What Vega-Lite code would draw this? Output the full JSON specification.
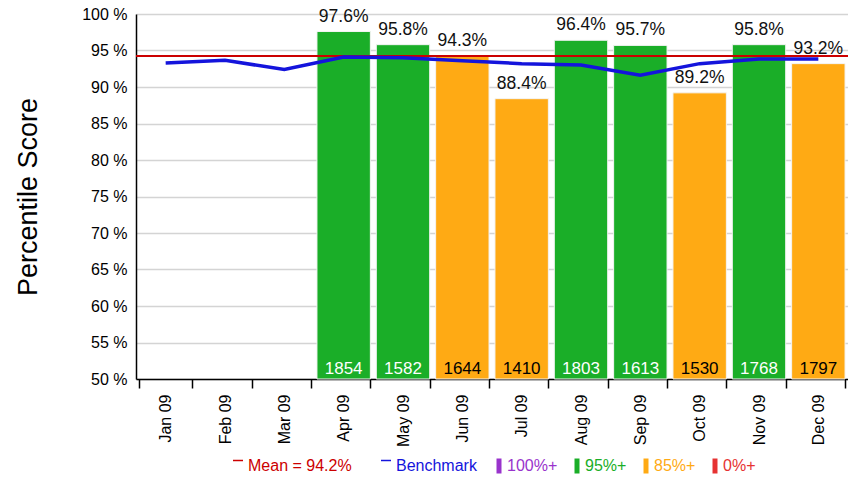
{
  "$schema": "https://vega.github.io/schema/vega-lite/v6.json",
  "width": 712,
  "height": 365,
  "autosize": "none",
  "padding": {"left": 136, "top": 14, "right": 0, "bottom": 100},
  "background": "white",
  "config": {
    "view": {"stroke": null},
    "font": "Liberation Sans",
    "axisY": {
      "labelFontSize": 16, "labelColor": "black", "labelPadding": 9,
      "ticks": false, "grid": true, "gridColor": "#d4d4d4", "gridWidth": 1.5,
      "domainColor": "black", "domainWidth": 1.5,
      "titleFont": "Liberation Sans", "titleFontSize": 27,
      "titleFontWeight": "normal", "titleColor": "black", "titlePadding": 39
    }
  },
  "data": {"values": [
    {"month": "Jan 09", "score": null, "count": null, "band": null, "bench": 93.3},
    {"month": "Feb 09", "score": null, "count": null, "band": null, "bench": 93.65},
    {"month": "Mar 09", "score": null, "count": null, "band": null, "bench": 92.4},
    {"month": "Apr 09", "score": 97.6, "count": 1854, "band": "95%+", "bench": 94.1},
    {"month": "May 09", "score": 95.8, "count": 1582, "band": "95%+", "bench": 94.0},
    {"month": "Jun 09", "score": 94.3, "count": 1644, "band": "85%+", "bench": 93.6},
    {"month": "Jul 09", "score": 88.4, "count": 1410, "band": "85%+", "bench": 93.2},
    {"month": "Aug 09", "score": 96.4, "count": 1803, "band": "95%+", "bench": 93.0},
    {"month": "Sep 09", "score": 95.7, "count": 1613, "band": "95%+", "bench": 91.6},
    {"month": "Oct 09", "score": 89.2, "count": 1530, "band": "85%+", "bench": 93.2},
    {"month": "Nov 09", "score": 95.8, "count": 1768, "band": "95%+", "bench": 93.85},
    {"month": "Dec 09", "score": 93.2, "count": 1797, "band": "85%+", "bench": 93.85}
  ]},
  "encoding": {
    "x": {
      "field": "month", "type": "ordinal",
      "scale": {
        "domain": ["Jan 09", "Feb 09", "Mar 09", "Apr 09", "May 09", "Jun 09", "Jul 09", "Aug 09", "Sep 09", "Oct 09", "Nov 09", "Dec 09"],
        "paddingInner": 0.1, "paddingOuter": 0.05
      },
      "axis": {
        "title": null, "labelAngle": -90, "labelAlign": "right", "labelBaseline": "middle",
        "labelFontSize": 16, "labelColor": "black", "labelPadding": 6,
        "tickBand": "extent", "tickSize": 9, "tickColor": "black", "tickWidth": 1.5,
        "domainColor": "black", "domainWidth": 1.5, "grid": false
      }
    }
  },
  "layer": [
    {
      "transform": [{"filter": "datum.score != null"}],
      "mark": {"type": "bar", "stroke": "#f4f4f4", "strokeWidth": 1},
      "encoding": {
        "y": {
          "field": "score", "type": "quantitative",
          "scale": {"domain": [50, 100], "zero": false, "nice": false},
          "axis": {"values": [50, 55, 60, 65, 70, 75, 80, 85, 90, 95, 100], "labelExpr": "datum.value + ' %'", "title": "Percentile Score"}
        },
        "y2": {"datum": 50},
        "fill": {
          "field": "band", "type": "nominal",
          "scale": {
            "domain": ["100%+", "95%+", "85%+", "0%+"],
            "range": ["#9933cc", "#1aae28", "#ffaa14", "#e63232"]
          },
          "legend": {
            "title": null, "orient": "none", "direction": "horizontal",
            "legendX": 355, "legendY": 444,
            "gridAlign": "none",
            "labelFontSize": 16, "labelOffset": 0,
            "labelColor": {"expr": "scale('fill', datum.value)"},
            "columnPadding": 11,
            "symbolType": "M-0.5,-1.5H0.5V1.5H-0.5Z", "symbolSize": 100, "symbolStrokeWidth": 0
          }
        }
      }
    },
    {
      "transform": [{"filter": "datum.score != null"}, {"calculate": "format(datum.score, '.1f') + '%'", "as": "lbl"}],
      "mark": {"type": "text", "baseline": "alphabetic", "dy": -10, "fontSize": 17.5, "color": "#111"},
      "encoding": {
        "y": {"field": "score", "type": "quantitative", "axis": {"values": [50, 55, 60, 65, 70, 75, 80, 85, 90, 95, 100], "labelExpr": "datum.value + ' %'", "title": "Percentile Score"}},
        "text": {"field": "lbl"}
      }
    },
    {
      "transform": [{"filter": "datum.band == '95%+'"}],
      "mark": {"type": "text", "baseline": "alphabetic", "dy": -5, "fontSize": 17, "color": "white"},
      "encoding": {
        "y": {"datum": 50, "axis": {"values": [50, 55, 60, 65, 70, 75, 80, 85, 90, 95, 100], "labelExpr": "datum.value + ' %'", "title": "Percentile Score"}},
        "text": {"field": "count", "type": "quantitative"}
      }
    },
    {
      "transform": [{"filter": "datum.band == '85%+'"}],
      "mark": {"type": "text", "baseline": "alphabetic", "dy": -5, "fontSize": 17, "color": "black"},
      "encoding": {
        "y": {"datum": 50, "axis": {"values": [50, 55, 60, 65, 70, 75, 80, 85, 90, 95, 100], "labelExpr": "datum.value + ' %'", "title": "Percentile Score"}},
        "text": {"field": "count", "type": "quantitative"}
      }
    },
    {
      "mark": {"type": "rule", "strokeWidth": 1.5},
      "encoding": {
        "y": {"datum": 94.2, "axis": {"values": [50, 55, 60, 65, 70, 75, 80, 85, 90, 95, 100], "labelExpr": "datum.value + ' %'", "title": "Percentile Score"}},
        "x": {"value": 0}, "x2": {"value": 712},
        "stroke": {
          "datum": "Mean = 94.2%", "type": "nominal",
          "scale": {"domain": ["Mean = 94.2%", "Benchmark"], "range": ["#cc0000", "#1414dc"]},
          "legend": {
            "title": null, "orient": "none", "direction": "horizontal",
            "legendX": 94, "legendY": 444,
            "gridAlign": "none",
            "labelFontSize": 16, "labelOffset": 2,
            "labelColor": {"expr": "scale('stroke', datum.value)"},
            "columnPadding": 26,
            "symbolType": "M-1,-1.1H1", "symbolSize": 100, "symbolStrokeWidth": 1.5
          }
        }
      }
    },
    {
      "mark": {"type": "line", "strokeWidth": 3.5},
      "encoding": {
        "y": {"field": "bench", "type": "quantitative", "axis": {"values": [50, 55, 60, 65, 70, 75, 80, 85, 90, 95, 100], "labelExpr": "datum.value + ' %'", "title": "Percentile Score"}},
        "stroke": {"datum": "Benchmark", "type": "nominal"}
      }
    }
  ]
}
